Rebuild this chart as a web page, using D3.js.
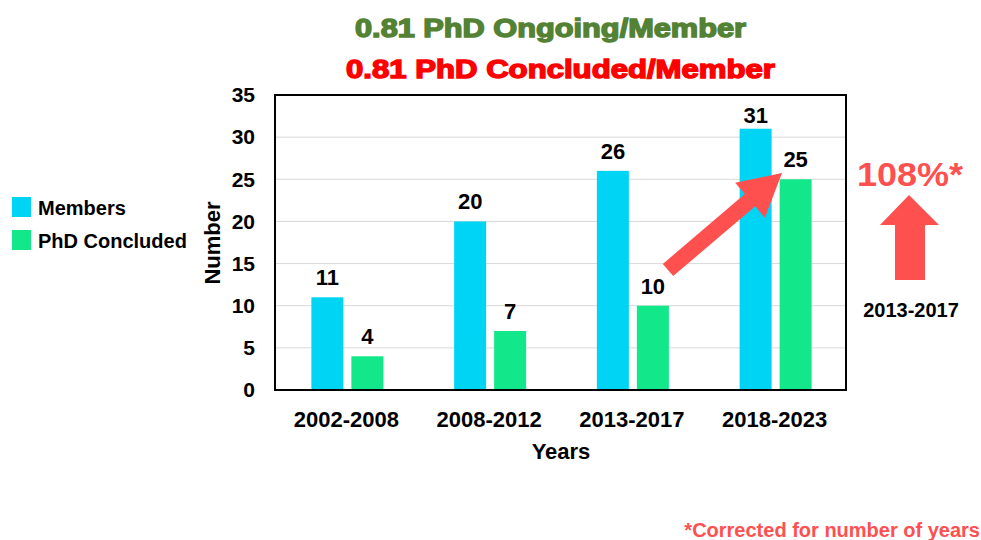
<!DOCTYPE html>
<html><head><meta charset="utf-8">
<script src="https://cdn.jsdelivr.net/npm/d3@7"></script>
<style>body{margin:0;background:#fff}text{font-family:"Liberation Sans",Arial,sans-serif;font-weight:bold}</style>
</head><body>
<svg id="c" width="981" height="540"></svg>
<script>
const categories = ["2002-2008","2008-2012","2013-2017","2018-2023"];
const seriesNames = ["Members","PhD Concluded"];
const members = [11,20,26,31];
const phdConcluded = [4,7,10,25];
const yTicks = [0,5,10,15,20,25,30,35];
const colors = ["#00d4f5","#12e88a"];

const svg = d3.select("#c");
const L=275,R=846,T=95,B=390;
const x = d3.scaleBand().domain(categories).range([L,R]);
const xi = d3.scaleBand().domain(seriesNames).range([-35,37]).paddingInner(0.2);
const y = d3.scaleLinear().domain([0,35]).range([B,T]);

// gridlines
svg.append("g").selectAll("line").data(yTicks.filter(t=>t>0&&t<35)).join("line")
 .attr("x1",L).attr("x2",R).attr("y1",d=>y(d)).attr("y2",d=>y(d))
 .attr("stroke","#d9d9d9").attr("stroke-width",1);

// bars
const data = categories.map((c,i)=>({c, vals:[members[i],phdConcluded[i]]}));
const g = svg.append("g").selectAll("g").data(data).join("g")
 .attr("transform",d=>`translate(${x(d.c)+x.bandwidth()/2},0)`);
g.selectAll("rect").data(d=>d.vals.map((v,j)=>({v,s:seriesNames[j],j}))).join("rect")
 .attr("x",d=>xi(d.s)).attr("width",xi.bandwidth())
 .attr("y",d=>y(d.v)).attr("height",d=>B-y(d.v)).attr("fill",d=>colors[d.j]);
g.selectAll("text").data(d=>d.vals.map((v,j)=>({v,s:seriesNames[j],j}))).join("text")
 .attr("x",d=>xi(d.s)+xi.bandwidth()/2).attr("y",d=>Math.max(y(d.v)-12, T+28))
 .attr("text-anchor","middle").attr("font-size",22).text(d=>d.v);

// frame
svg.append("rect").attr("x",L).attr("y",T).attr("width",R-L).attr("height",B-T)
 .attr("fill","none").attr("stroke","#000").attr("stroke-width",2);

// y axis
const ya = svg.append("g").attr("transform",`translate(${L},0)`)
 .call(d3.axisLeft(y).tickValues(yTicks).tickSize(0).tickPadding(20));
ya.select(".domain").remove();
ya.selectAll("text").attr("font-size",21).attr("fill","#000").attr("font-family","Liberation Sans, Arial").attr("font-weight","bold");

// x axis
const xa = svg.append("g").attr("transform",`translate(0,${B})`)
 .call(d3.axisBottom(x).tickSize(0));
xa.select(".domain").remove();
xa.selectAll("text").attr("dy",0).attr("y",37).attr("font-size",22).attr("fill","#000").attr("font-family","Liberation Sans, Arial").attr("font-weight","bold");

svg.append("text").attr("x",561).attr("y",459).attr("text-anchor","middle").attr("font-size",22).text("Years");
svg.append("text").attr("transform","translate(220,243) rotate(-90)").attr("text-anchor","middle").attr("font-size",22).text("Number");

// titles
svg.append("text").attr("x",355).attr("y",37).attr("font-size",25).attr("fill","#548235")
 .attr("stroke","#548235").attr("stroke-width",1.4)
 .attr("textLength",391).attr("lengthAdjust","spacingAndGlyphs").text("0.81 PhD Ongoing/Member");
svg.append("text").attr("x",346).attr("y",78).attr("font-size",25).attr("fill","#ff0000")
 .attr("stroke","#ff0000").attr("stroke-width",1.4)
 .attr("textLength",429).attr("lengthAdjust","spacingAndGlyphs").text("0.81 PhD Concluded/Member");

// legend
const lg = svg.append("g").selectAll("g").data(seriesNames).join("g")
 .attr("transform",(d,i)=>`translate(12,${197+i*33})`);
lg.append("rect").attr("width",19).attr("height",20).attr("fill",(d,i)=>colors[i]);
lg.append("text").attr("x",26).attr("y",18).attr("font-size",20).text(d=>d);

// diagonal arrow
const ac="#ff5050";
(function(){
 const x1=668,y1=270,x2=782,y2=173;
 const dx=x2-x1,dy=y2-y1,len=Math.hypot(dx,dy),ux=dx/len,uy=dy/len,nx=-uy,ny=ux;
 const hl=42,hw=23,sw=8;
 const bx=x2-ux*hl,by=y2-uy*hl;
 const pts=[[x1+nx*sw,y1+ny*sw],[bx+nx*sw,by+ny*sw],[bx+nx*hw,by+ny*hw],[x2,y2],[bx-nx*hw,by-ny*hw],[bx-nx*sw,by-ny*sw],[x1-nx*sw,y1-ny*sw]];
 svg.append("polygon").attr("points",pts.map(p=>p.join(",")).join(" ")).attr("fill",ac);
})();

// up arrow
svg.append("polygon").attr("points","895,280 895,225 880,225 909,195 939,225 925,225 925,280").attr("fill",ac);
svg.append("text").attr("x",857).attr("y",186).attr("font-size",33).attr("fill",ac)
 .attr("textLength",106).attr("lengthAdjust","spacingAndGlyphs").text("108%*");
svg.append("text").attr("x",911).attr("y",317).attr("text-anchor","middle").attr("font-size",20).attr("fill","#000").text("2013-2017");

svg.append("text").attr("x",980).attr("y",537).attr("text-anchor","end").attr("font-size",20).attr("fill",ac).text("*Corrected for number of years");
</script>
</body></html>
